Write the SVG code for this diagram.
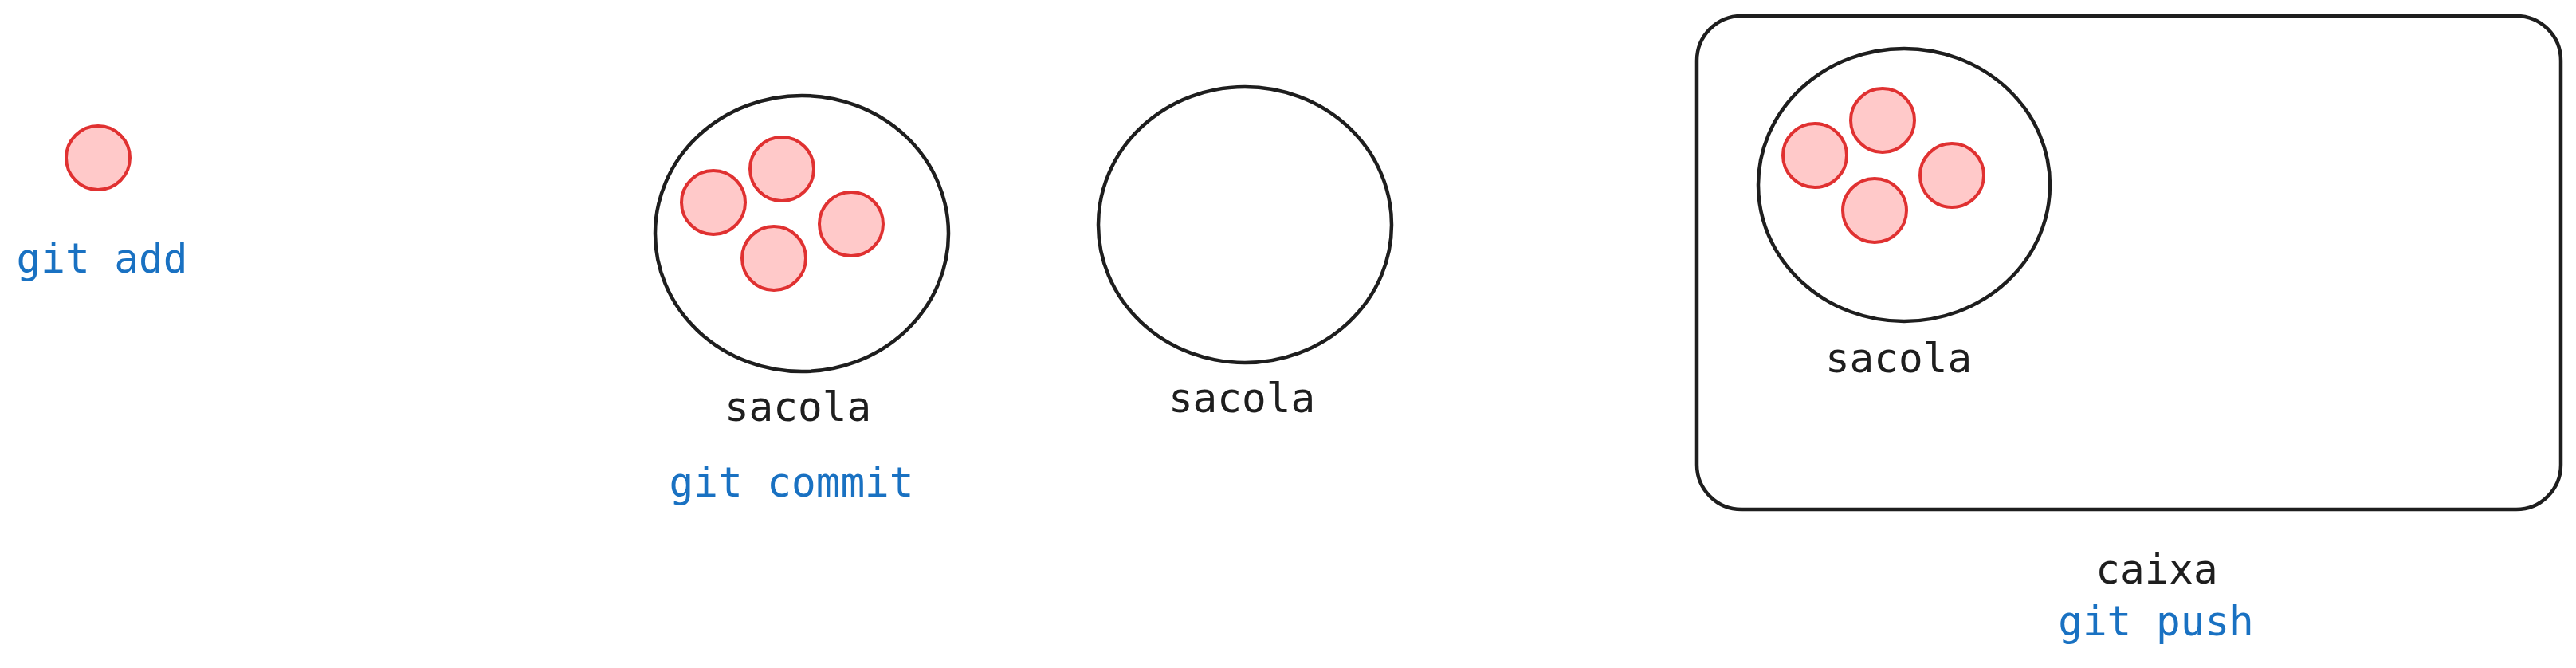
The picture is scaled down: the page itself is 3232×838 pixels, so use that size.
<svg xmlns="http://www.w3.org/2000/svg" width="3232" height="838" viewBox="0 0 3232 838">
<style>
.bag{fill:#ffffff;stroke:#1e1e1e;stroke-width:4.5}
.item{fill:#ffc9c9;stroke:#e03131;stroke-width:4}
.box{fill:#ffffff;stroke:#1e1e1e;stroke-width:4.5}
.lbl{font-family:"DejaVu Sans Mono","Liberation Mono",monospace;font-size:51px;text-anchor:middle}
.dark{fill:#1e1e1e}
.blue{fill:#1971c2}
</style>
<rect width="3232" height="838" fill="#ffffff"/>
<g id="add">
  <circle class="item" cx="123" cy="198" r="40"/>
  <text class="lbl blue" x="128" y="342">git add</text>
</g>
<g id="commit">
  <ellipse class="bag" cx="1006" cy="293" rx="184" ry="173"/>
  <circle class="item" cx="895" cy="254" r="40"/>
  <circle class="item" cx="981" cy="212" r="40"/>
  <circle class="item" cx="1068" cy="281" r="40"/>
  <circle class="item" cx="971" cy="324" r="40"/>
  <text class="lbl dark" x="1001" y="528">sacola</text>
  <text class="lbl blue" x="993" y="623">git commit</text>
</g>
<g id="empty-bag">
  <ellipse class="bag" cx="1562" cy="282" rx="184" ry="173"/>
  <text class="lbl dark" x="1558" y="517">sacola</text>
</g>
<g id="push">
  <rect class="box" x="2129" y="20" width="1084" height="619" rx="56" ry="56"/>
  <ellipse class="bag" cx="2389" cy="232" rx="183" ry="171"/>
  <circle class="item" cx="2277" cy="195" r="40"/>
  <circle class="item" cx="2362" cy="151" r="40"/>
  <circle class="item" cx="2449" cy="220" r="40"/>
  <circle class="item" cx="2352" cy="264" r="40"/>
  <text class="lbl dark" x="2382" y="467">sacola</text>
  <text class="lbl dark" x="2706" y="732">caixa</text>
  <text class="lbl blue" x="2705" y="797">git push</text>
</g>
<g id="connectors"/>
</svg>
